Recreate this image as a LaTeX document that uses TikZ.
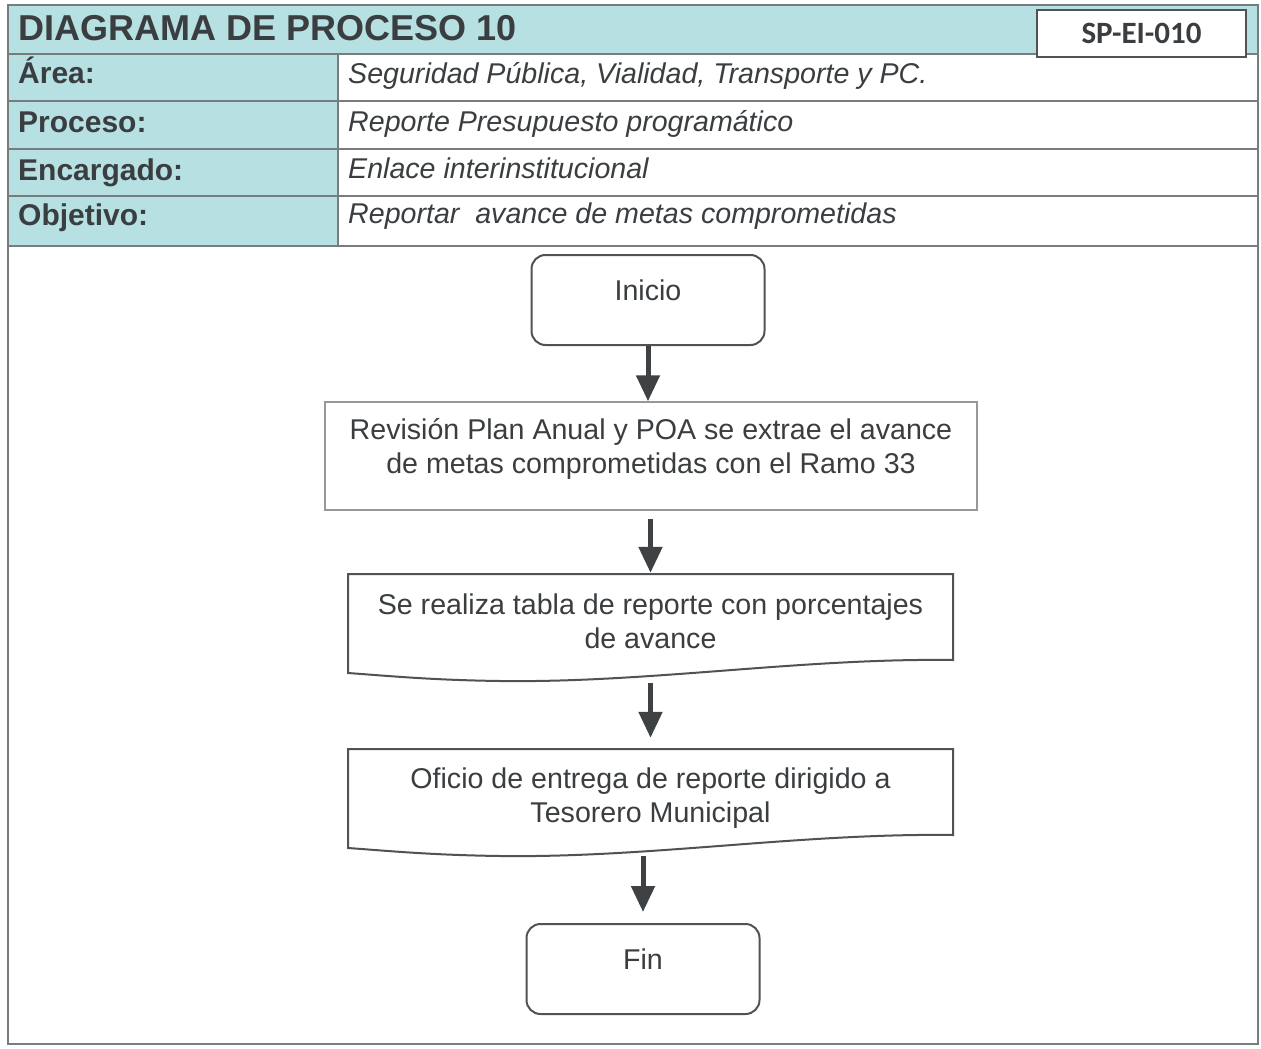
\documentclass[tikz,border=0pt]{standalone}
\usepackage{fontspec}
\setmainfont{Liberation Sans}
\newfontfamily\carl{Carlito}
\usetikzlibrary{arrows.meta}
\definecolor{tealc}{RGB}{182,224,225}
\definecolor{txtc}{RGB}{58,62,64}
\definecolor{gridc}{RGB}{120,124,126}
\definecolor{boxc}{RGB}{80,82,84}
\definecolor{lightbox}{RGB}{150,152,154}
\definecolor{arrowc}{RGB}{62,66,68}
\tikzset{
  lbl/.style={anchor=base west, font=\fontsize{30}{34}\selectfont\bfseries, text=txtc, inner sep=0pt},
  val/.style={anchor=base west, font=\fontsize{28.6}{32}\selectfont\itshape, text=txtc, inner sep=0pt},
  flowtxt/.style={font=\fontsize{28.6}{34}\selectfont, text=txtc, align=center},
  termbox/.style={flowtxt, draw=boxc, line width=2pt, rounded corners=14pt, minimum width=233pt, minimum height=90pt, text height=20pt, text depth=20pt, inner sep=0pt},
  procbox/.style={draw=lightbox, line width=1.5pt, minimum width=652pt, minimum height=108pt, inner sep=0pt},
  docbox/.style={minimum width=605pt, minimum height=106pt, inner sep=0pt},
  docline/.style={draw=boxc, line width=2pt},
  flowarrow/.style={draw=arrowc, line width=5pt, -{Triangle[length=26pt,width=23pt]}},
  gridline/.style={draw=gridc, line width=1.6pt}
}
\begin{document}
\begin{tikzpicture}[x=1pt,y=-1pt]
\useasboundingbox (0,0) rectangle (1261,1049);
\fill[white] (0,0) rectangle (1261,1049);
% header fills
\fill[tealc] (8,5) rectangle (1258,54);
\fill[tealc] (8,54) rectangle (338,246);
% header grid
\foreach \yy in {54,101,149,196,246} {\draw[gridline] (8,\yy) -- (1258,\yy);}
\draw[gridline] (338,54) -- (338,246);
\draw[gridline] (8,5) rectangle (1258,1044);
% title
\node[anchor=base west, font=\fontsize{36}{40}\selectfont\bfseries, text=txtc, inner sep=0pt] (title) at (18,41) {DIAGRAMA DE PROCESO 10};
\node[draw=boxc, fill=white, line width=1.6pt, minimum width=209pt, minimum height=47pt, inner sep=0pt, font=\carl\bfseries\fontsize{31}{34}\selectfont, text=txtc] (code) at (1141.5,33.5) {SP-EI-010};
% rows
\node[lbl] (l1) at (18,84) {Área:};
\node[lbl] (l2) at (18,132) {Proceso:};
\node[lbl] (l3) at (18,180) {Encargado:};
\node[lbl] (l4) at (18,225) {Objetivo:};
\node[val] (v1) at (348,83) {Seguridad Pública, Vialidad, Transporte y PC.};
\node[val] (v2) at (348,131) {Reporte Presupuesto programático};
\node[val] (v3) at (348,178) {Enlace interinstitucional};
\node[val] (v4) at (348,223) {Reportar\ \ avance de metas comprometidas};
% flow
\node[termbox] (inicio) at (648,300) {Inicio};
\node[procbox, label={[flowtxt, yshift=7pt]center:{Revisión Plan Anual y POA se extrae el avance\\de metas comprometidas con el Ramo 33}}] (rev) at (651,456) {};
\node[docbox, label={[flowtxt, yshift=6pt]center:{Se realiza tabla de reporte con porcentajes\\de avance}}] (doc1) at (650.5,627) {};
\node[docbox, label={[flowtxt, yshift=4pt]center:{Oficio de entrega de reporte dirigido a\\Tesorero Municipal}}] (doc2) at (650.5,802) {};
\node[termbox] (fin) at (643,969) {Fin};
% document outlines
\draw[docline] (348,574) -- (953,574) -- (953,660) .. controls (800,658) and (650,683) .. (500,681) .. controls (430,680) and (390,676) .. (348,673) -- cycle;
\draw[docline] (348,749) -- (953,749) -- (953,835) .. controls (800,833) and (650,858) .. (500,856) .. controls (430,855) and (390,851) .. (348,848) -- cycle;
% arrows
\draw[flowarrow] (inicio.south) -- (inicio.south |- rev.north);
\draw[flowarrow, shorten <=8pt, shorten >=1pt] (rev.south -| doc1.north) -- (doc1.north);
\draw[flowarrow, shorten <=3pt, shorten >=11pt] (doc1.south) -- (doc2.north);
\draw[flowarrow, shorten <=1pt, shorten >=11pt] (doc2.south -| fin.north) -- (fin.north);
\end{tikzpicture}
\end{document}
